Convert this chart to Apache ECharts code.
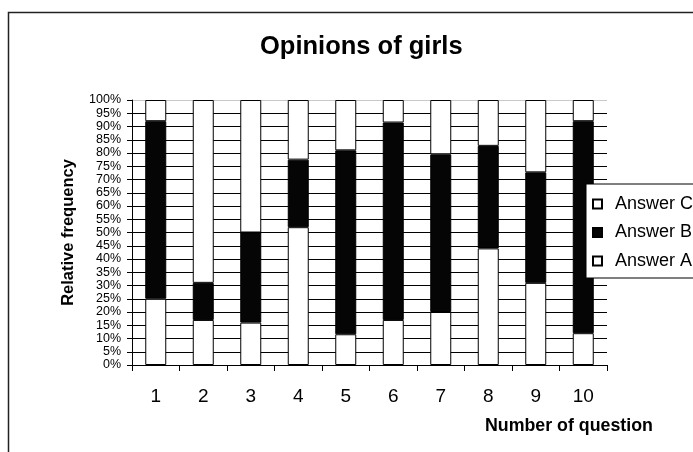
<!DOCTYPE html>
<html>
<head>
<meta charset="utf-8">
<script src="https://cdn.jsdelivr.net/npm/echarts@6/dist/echarts.min.js"></script>
<style>
html,body{margin:0;padding:0;background:#fff;}
#chart{width:693px;height:452px;}
</style>
</head>
<body>
<div id="chart"></div>
<script>
const categories = ['1','2','3','4','5','6','7','8','9','10'];
const answerA = [25, 17, 16, 52, 11.6, 17, 20, 44, 31, 12];
const answerB = [67, 14, 34, 25.5, 69.4, 74.5, 59.5, 38.7, 41.7, 80];
const answerC = [8, 69, 50, 22.5, 19, 8.5, 20.5, 17.3, 27.3, 8];
const yTicks = 5;

const font = '"Liberation Sans", Arial, sans-serif';
const gridColors = [];
for (let i = 0; i <= 100 / yTicks; i++) gridColors.push(i === 100 / yTicks ? '#c8c8c8' : '#000');

const chart = echarts.init(document.getElementById('chart'));
const barStyle = (fill) => ({ color: fill, borderColor: '#000', borderWidth: 1 });
chart.setOption({
  animation: false,
  backgroundColor: '#fff',
  textStyle: { fontFamily: font },
  title: {
    text: 'Opinions of girls',
    left: 255, top: 29,
    textStyle: { fontFamily: font, fontWeight: 'bold', fontSize: 25.5, color: '#000' }
  },
  graphic: [
    { type: 'rect', shape: { x: 8.5, y: 12.5, width: 720, height: 480 },
      style: { fill: 'none', stroke: '#222', lineWidth: 1.5 }, silent: true, z: -1 },
    { type: 'text', left: 485, top: 417,
      style: { text: 'Number of question', font: 'bold 17.8px ' + font, fill: '#000' } }
  ],
  legend: {
    orient: 'vertical',
    left: 586, top: 184,
    data: ['Answer C', 'Answer B', 'Answer A'],
    icon: 'rect',
    itemWidth: 9, itemHeight: 9,
    itemGap: 10.5,
    padding: [11, 30, 8, 6],
    backgroundColor: '#fff',
    borderColor: '#000',
    borderWidth: 1,
    textStyle: { fontFamily: font, fontSize: 18, color: '#000', padding: [0, 0, 0, 8] }
  },
  grid: { left: 132, right: 86, top: 100, bottom: 87 },
  xAxis: {
    type: 'category',
    data: categories,
    axisLine: { lineStyle: { color: '#000', width: 1 } },
    axisTick: { show: true, length: 6, lineStyle: { color: '#000' } },
    axisLabel: { margin: 22, fontSize: 19, color: '#000', fontFamily: font }
  },
  yAxis: {
    type: 'value',
    min: 0, max: 100, interval: yTicks,
    name: 'Relative frequency',
    nameLocation: 'middle',
    nameGap: 55,
    nameTextStyle: { fontFamily: font, fontWeight: 'bold', fontSize: 16.5, color: '#000' },
    axisLine: { show: true, lineStyle: { color: '#000', width: 1 } },
    axisTick: { show: true, length: 5, lineStyle: { color: '#000' } },
    axisLabel: { formatter: '{value}%', fontSize: 12.5, color: '#000', margin: 11, fontFamily: font,
                 showMinLabel: true, showMaxLabel: true },
    splitLine: { show: true, lineStyle: { color: gridColors, width: 1 } }
  },
  series: [
    { name: 'Answer A', type: 'bar', stack: 'all', data: answerA, barWidth: 21, itemStyle: barStyle('#fff') },
    { name: 'Answer B', type: 'bar', stack: 'all', data: answerB, barWidth: 21, itemStyle: barStyle('#050505') },
    { name: 'Answer C', type: 'bar', stack: 'all', data: answerC, barWidth: 21, itemStyle: barStyle('#fff') }
  ]
});
</script>
</body>
</html>
